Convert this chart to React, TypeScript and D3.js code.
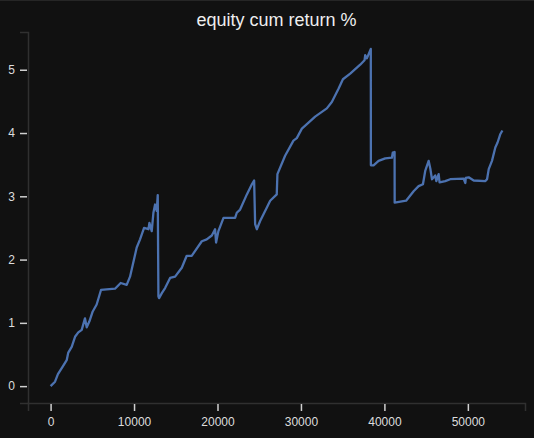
import React, { useEffect, useRef } from 'react'
import * as d3 from 'd3'

// trade index (x) and cumulative return in % (y)
const steps = [
  0, 530, 880, 1450, 1930, 2120, 2530, 2930, 3320, 3730, 4120, 4330, 4640, 5050, 5520, 6040,
  7720, 8400, 9120, 9520, 10320, 10720, 11200, 11730, 11840, 12120, 12320, 12520, 12720, 12840,
  12920, 13000, 13330, 13720, 14320, 14920, 15720, 16310, 16910, 18120, 18710, 19320, 19710,
  19830, 20110, 20720, 22110, 22310, 22710, 23520, 24120, 24390, 24510, 24710, 25110, 25900,
  26310, 27100, 27180, 28100, 29100, 29500, 30110, 30710, 31700, 33100, 33700, 34500, 35030,
  35900, 37100, 37620, 37700, 37900, 38370, 38380, 38700, 39300, 40100, 40900, 41000, 41220,
  41230, 42600, 43500, 44100, 44620, 44890, 45300, 45500, 45700, 46090, 46220, 46500, 46610,
  47290, 47890, 49490, 49700, 49750, 50100, 50700, 52100, 52300, 52500, 52890, 53290, 53560,
  53880, 54140,
]
const cumReturn = [
  0, 0.07, 0.19, 0.31, 0.41, 0.53, 0.62, 0.78, 0.85, 0.89, 1.07, 0.93, 1.02, 1.18, 1.29, 1.52,
  1.54, 1.63, 1.6, 1.73, 2.19, 2.32, 2.5, 2.48, 2.58, 2.45, 2.74, 2.87, 2.77, 3.02,
  1.42, 1.39, 1.47, 1.55, 1.71, 1.73, 1.87, 2.06, 2.06, 2.29, 2.32, 2.38, 2.48,
  2.27, 2.45, 2.66, 2.66, 2.74, 2.79, 3.03, 3.19, 3.25, 2.56, 2.48, 2.61, 2.82,
  2.93, 3.03, 3.35, 3.64, 3.88, 3.92, 4.07, 4.14, 4.26, 4.39, 4.49, 4.7, 4.85,
  4.94, 5.08, 5.15, 5.23, 5.18, 5.33, 3.49, 3.49, 3.56, 3.6, 3.61, 3.69, 3.7,
  2.9, 2.93, 3.08, 3.16, 3.19, 3.4, 3.56, 3.44, 3.27, 3.33, 3.24, 3.35, 3.22,
  3.24, 3.27, 3.28, 3.21, 3.29, 3.3, 3.25, 3.24, 3.27, 3.43, 3.56, 3.77, 3.85,
  3.98, 4.04,
]
const xTicks = [0, 10000, 20000, 30000, 40000, 50000]
const yTicks = [0, 1, 2, 3, 4, 5]
const title = 'equity cum return %'

const W = 534
const H = 438
const margin = { top: 32, right: 9, bottom: 35, left: 28 }

const App = () => {
  const ref = useRef<SVGSVGElement>(null)

  useEffect(() => {
    const svg = d3.select(ref.current)
    svg.selectAll('*').remove()

    const width = W - margin.left - margin.right
    const height = H - margin.top - margin.bottom

    svg.append('rect').attr('width', W).attr('height', H).attr('fill', '#111111')
    svg.append('rect').attr('width', W).attr('height', 1).attr('fill', '#262626')

    const data = steps.map((s, i) => ({ x: s, y: cumReturn[i] }))
    const [x0, x1] = d3.extent(steps) as [number, number]
    const [y0, y1] = d3.extent(cumReturn) as [number, number]
    const xPad = (x1 - x0) * 0.05
    const yPad = (y1 - y0) * 0.05

    const x = d3.scaleLinear().domain([x0 - xPad, x1 + xPad]).range([0, width])
    const y = d3.scaleLinear().domain([y0 - yPad, y1 + yPad]).range([height, 0])

    const g = svg.append('g').attr('transform', `translate(${margin.left},${margin.top})`)

    const xAxis = g.append('g')
      .attr('transform', `translate(0,${height})`)
      .call(d3.axisBottom(x).tickValues(xTicks).tickFormat(d3.format('d')).tickSize(8).tickPadding(6))
    const yAxis = g.append('g')
      .call(d3.axisLeft(y).tickValues(yTicks).tickFormat(d3.format('d')).tickSize(8).tickPadding(5))

    for (const ax of [xAxis, yAxis]) {
      ax.select('.domain').attr('stroke', '#303030').attr('stroke-width', 1.5)
      ax.selectAll('.tick line').attr('stroke', '#d0d0d0').attr('stroke-width', 1.5)
      ax.selectAll('.tick text')
        .attr('fill', '#dddddd')
        .style('font-family', 'Arial, "Liberation Sans", sans-serif')
        .style('font-size', '12px')
    }
    // pull the ticks off the spine like matplotlib's outward ticks
    xAxis.selectAll('.tick line').attr('y1', 1).attr('y2', 8)
    yAxis.selectAll('.tick line').attr('x1', -1).attr('x2', -8)

    const line = d3.line<{ x: number; y: number }>()
      .x((d) => x(d.x))
      .y((d) => y(d.y))

    g.append('path')
      .datum(data)
      .attr('fill', 'none')
      .attr('stroke', '#4c72b0')
      .attr('stroke-width', 2.3)
      .attr('stroke-linejoin', 'round')
      .attr('d', line)

    svg.append('text')
      .attr('x', margin.left + width / 2)
      .attr('y', 26)
      .attr('text-anchor', 'middle')
      .attr('fill', '#eeeeee')
      .style('font-family', 'Arial, "Liberation Sans", sans-serif')
      .style('font-size', '18px')
      .text(title)
  }, [])

  return (
    <svg
      ref={ref}
      width={W}
      height={H}
      style={{ position: 'absolute', left: 0, top: 0, display: 'block' }}
    />
  )
}

export default App
